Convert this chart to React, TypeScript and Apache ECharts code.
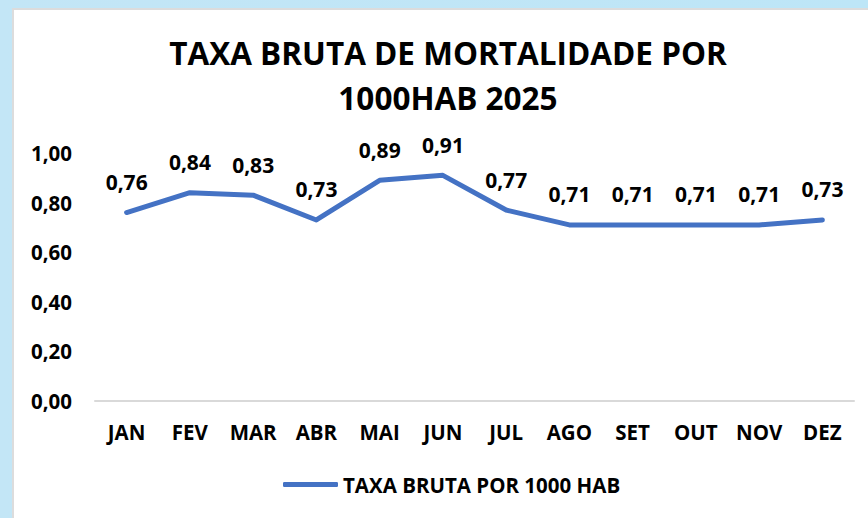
import React, { useEffect, useRef } from "react";
import * as echarts from "echarts";

const categories = ["JAN", "FEV", "MAR", "ABR", "MAI", "JUN", "JUL", "AGO", "SET", "OUT", "NOV", "DEZ"];
const values = [0.76, 0.84, 0.83, 0.73, 0.89, 0.91, 0.77, 0.71, 0.71, 0.71, 0.71, 0.73];
const seriesName = "TAXA BRUTA POR 1000 HAB";
const titleText = "TAXA BRUTA DE MORTALIDADE POR\n1000HAB 2025";

const FONT = "'Open Sans', 'Noto Sans', sans-serif";
const BLUE = "#4472C4";

export default function App() {
  const ref = useRef<HTMLDivElement>(null);
  useEffect(() => {
    if (!ref.current) return;
    const chart = echarts.init(ref.current, undefined, { renderer: "svg" });
    chart.setOption({
      animation: false,
      backgroundColor: "transparent",
      title: {
        text: titleText,
        left: 443,
        textAlign: "center",
        top: 25,
        textStyle: { fontFamily: FONT, fontWeight: "bold", fontSize: 31.5, color: "#000", lineHeight: 45 },
      },
      grid: { left: 95, right: 14, top: 153, bottom: 117, containLabel: false },
      legend: {
        data: [seriesName],
        left: 283,
        top: 474,
        padding: 0,
        itemWidth: 55,
        itemHeight: 5,
        icon: "roundRect",
        itemGap: 5,
        itemStyle: { color: BLUE },
        textStyle: { fontFamily: FONT, fontWeight: "bold", fontSize: 20.5, color: "#000", padding: [0, 0, 0, 0] },
      },
      xAxis: {
        type: "category",
        data: categories,
        boundaryGap: true,
        axisLine: { show: true, lineStyle: { color: "#d9d9d9", width: 2 } },
        axisTick: { show: false },
        axisLabel: { fontFamily: FONT, fontWeight: "bold", fontSize: 20.5, color: "#000", margin: 20 },
      },
      yAxis: {
        type: "value",
        min: 0,
        max: 1,
        interval: 0.2,
        splitLine: { show: false },
        axisLine: { show: false },
        axisTick: { show: false },
        axisLabel: {
          fontFamily: FONT,
          fontWeight: "bold",
          fontSize: 20.5,
          color: "#000",
          margin: 23,
          formatter: (v: number) => v.toFixed(2).replace(".", ","),
        },
      },
      series: [
        {
          name: seriesName,
          type: "line",
          data: values,
          symbol: "circle",
          symbolSize: 0,
          showSymbol: true,
          lineStyle: { color: BLUE, width: 5, cap: "round", join: "round" },
          itemStyle: { color: BLUE },
          label: {
            show: true,
            position: "top",
            distance: 20,
            fontFamily: FONT,
            fontWeight: "bold",
            fontSize: 21,
            color: "#000",
            formatter: (p: any) => p.value.toFixed(2).replace(".", ","),
          },
        },
      ],
    });
    return () => chart.dispose();
  }, []);

  return (
    <div style={{ position: "fixed", left: 0, top: 0, width: 868, height: 518, background: "linear-gradient(to right, #c3e6f6, #bde6f7)", overflow: "hidden" }}>
      <div style={{ position: "absolute", left: 12, top: 8, width: 868, height: 520, background: "#fff", border: "2px solid #dcdcdc", boxSizing: "border-box" }} />
      <div ref={ref} style={{ position: "absolute", left: 0, top: 0, width: 868, height: 518 }} />
    </div>
  );
}
